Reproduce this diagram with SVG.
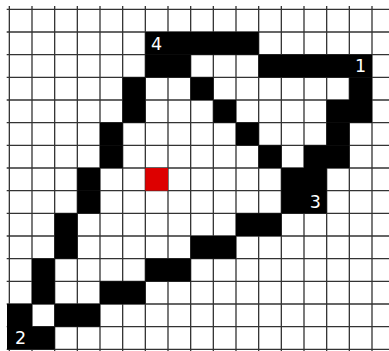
<svg xmlns="http://www.w3.org/2000/svg" width="389" height="351" viewBox="0 0 389 351">
<style>
.b{fill:#000}
.r{fill:#dd0000}
.g{stroke:#333;stroke-width:1.3;fill:none}
.t{fill:#fff;font-family:"DejaVu Sans",sans-serif;font-size:17.5px;text-anchor:middle}
</style>
<rect width="389" height="351" fill="#fff"/>
<g id="grid">
<path class="g" d="M9.33 6V351M32 6V351M54.67 6V351M77.33 6V351M100 6V351M122.67 6V351M145.33 6V351M168 6V351M190.67 6V351M213.33 6V351M236 6V351M258.67 6V351M281.33 6V351M304 6V351M326.67 6V351M349.33 6V351M372 6V351
M6.7 9.33H389M6.7 32H389M6.7 54.67H389M6.7 77.33H389M6.7 100H389M6.7 122.67H389M6.7 145.33H389M6.7 168H389M6.7 190.67H389M6.7 213.33H389M6.7 236H389M6.7 258.67H389M6.7 281.33H389M6.7 304H389M6.7 326.67H389M6.7 349.33H389"/>
</g>
<g id="cells">
<rect class="b" x="145.33" y="32" width="113.34" height="22.67"/>
<rect class="b" x="145.33" y="54.67" width="45.34" height="22.66"/>
<rect class="b" x="258.67" y="54.67" width="113.33" height="22.66"/>
<rect class="b" x="122.67" y="77.33" width="22.66" height="22.67"/>
<rect class="b" x="190.67" y="77.33" width="22.66" height="22.67"/>
<rect class="b" x="349.33" y="77.33" width="22.67" height="22.67"/>
<rect class="b" x="122.67" y="100" width="22.66" height="22.67"/>
<rect class="b" x="213.33" y="100" width="22.67" height="22.67"/>
<rect class="b" x="326.67" y="100" width="45.33" height="22.67"/>
<rect class="b" x="100" y="122.67" width="22.67" height="22.66"/>
<rect class="b" x="236" y="122.67" width="22.67" height="22.66"/>
<rect class="b" x="326.67" y="122.67" width="22.66" height="22.66"/>
<rect class="b" x="100" y="145.33" width="22.67" height="22.67"/>
<rect class="b" x="258.67" y="145.33" width="22.66" height="22.67"/>
<rect class="b" x="304" y="145.33" width="45.33" height="22.67"/>
<rect class="b" x="77.33" y="168" width="22.67" height="22.67"/>
<rect class="b" x="281.33" y="168" width="45.34" height="45.33"/>
<rect class="r" x="145.33" y="168" width="22.67" height="22.67"/>
<rect class="b" x="77.33" y="190.67" width="22.67" height="22.66"/>
<rect class="b" x="54.67" y="213.33" width="22.66" height="45.34"/>
<rect class="b" x="236" y="213.33" width="45.33" height="22.67"/>
<rect class="b" x="190.67" y="236" width="45.33" height="22.67"/>
<rect class="b" x="32" y="258.67" width="22.67" height="45.33"/>
<rect class="b" x="145.33" y="258.67" width="45.34" height="22.66"/>
<rect class="b" x="100" y="281.33" width="45.33" height="22.67"/>
<rect class="b" x="7" y="304" width="25" height="45.33"/>
<rect class="b" x="54.67" y="304" width="45.33" height="22.67"/>
<rect class="b" x="32" y="326.67" width="22.67" height="22.66"/>
</g>
<g id="labels">
<text class="t" x="156.67" y="49.7">4</text>
<text class="t" x="360.67" y="72.4">1</text>
<text class="t" x="315.33" y="208.4">3</text>
<text class="t" x="20.67" y="344.4">2</text>
</g>
</svg>
